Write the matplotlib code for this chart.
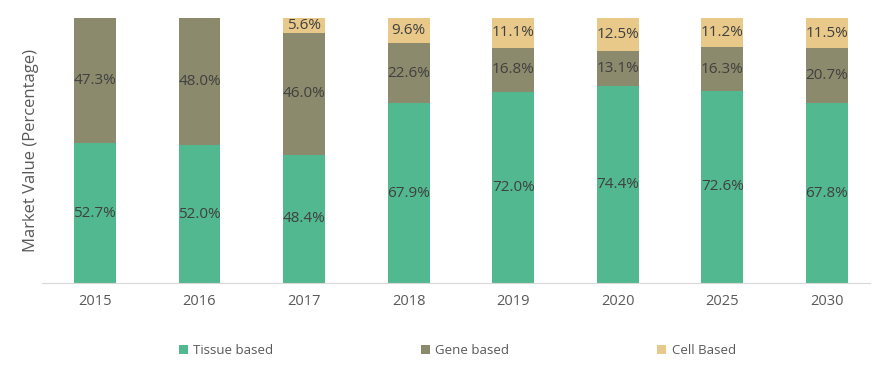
import matplotlib
matplotlib.use("Agg")
import matplotlib.pyplot as plt
import numpy as np

years = ["2015", "2016", "2017", "2018", "2019", "2020", "2025", "2030"]
tissue = [52.7, 52.0, 48.4, 67.9, 72.0, 74.4, 72.6, 67.8]
gene = [47.3, 48.0, 46.0, 22.6, 16.8, 13.1, 16.3, 20.7]
cell = [0.0, 0.0, 5.6, 9.6, 11.1, 12.5, 11.2, 11.5]
series_names = ["Tissue based", "Gene based", "Cell Based"]
colors = ["#52B88F", "#8C8A6C", "#E8C98A"]

plt.rcParams['font.family'] = ['Open Sans', 'DejaVu Sans']
fig = plt.figure(figsize=(8.93, 3.79), dpi=100)
ax = fig.add_axes([0.047, 0.2533, 0.927, 0.6992])

x = np.arange(len(years))
bottom = np.zeros(len(years))
handles = []
for vals, name, col in zip([tissue, gene, cell], series_names, colors):
    vals = np.array(vals)
    b = ax.bar(x, vals, 0.4, bottom=bottom, color=col, label=name)
    handles.append(b)
    for xi, v, bt in zip(x, vals, bottom):
        if v > 0:
            ax.text(xi, bt + v / 2, f"{v:.1f}%", ha="center", va="center",
                    fontsize=11, color="#404040")
    bottom = bottom + vals

ax.set_xlim(-0.506, 7.41)
ax.set_ylim(0, 100)
ax.set_xticks(x)
ax.set_xticklabels(years, fontsize=10.5, color="#595959")
ax.tick_params(axis="x", length=0, pad=8)
ax.set_yticks([])
for s in ["top", "right", "left"]:
    ax.spines[s].set_visible(False)
ax.spines["bottom"].set_color("#d9d9d9")
ax.set_ylabel("Market Value (Percentage)", fontsize=12, color="#595959", labelpad=2)

fig.legend(handles=handles, labels=series_names, loc="center", bbox_to_anchor=(0.512, 0.075),
           ncol=3, frameon=False, fontsize=9.5, handlelength=0.7, handleheight=0.7,
           handletextpad=0.4, columnspacing=11.2, labelcolor="#595959")

fig.savefig("out.png", dpi=100)
